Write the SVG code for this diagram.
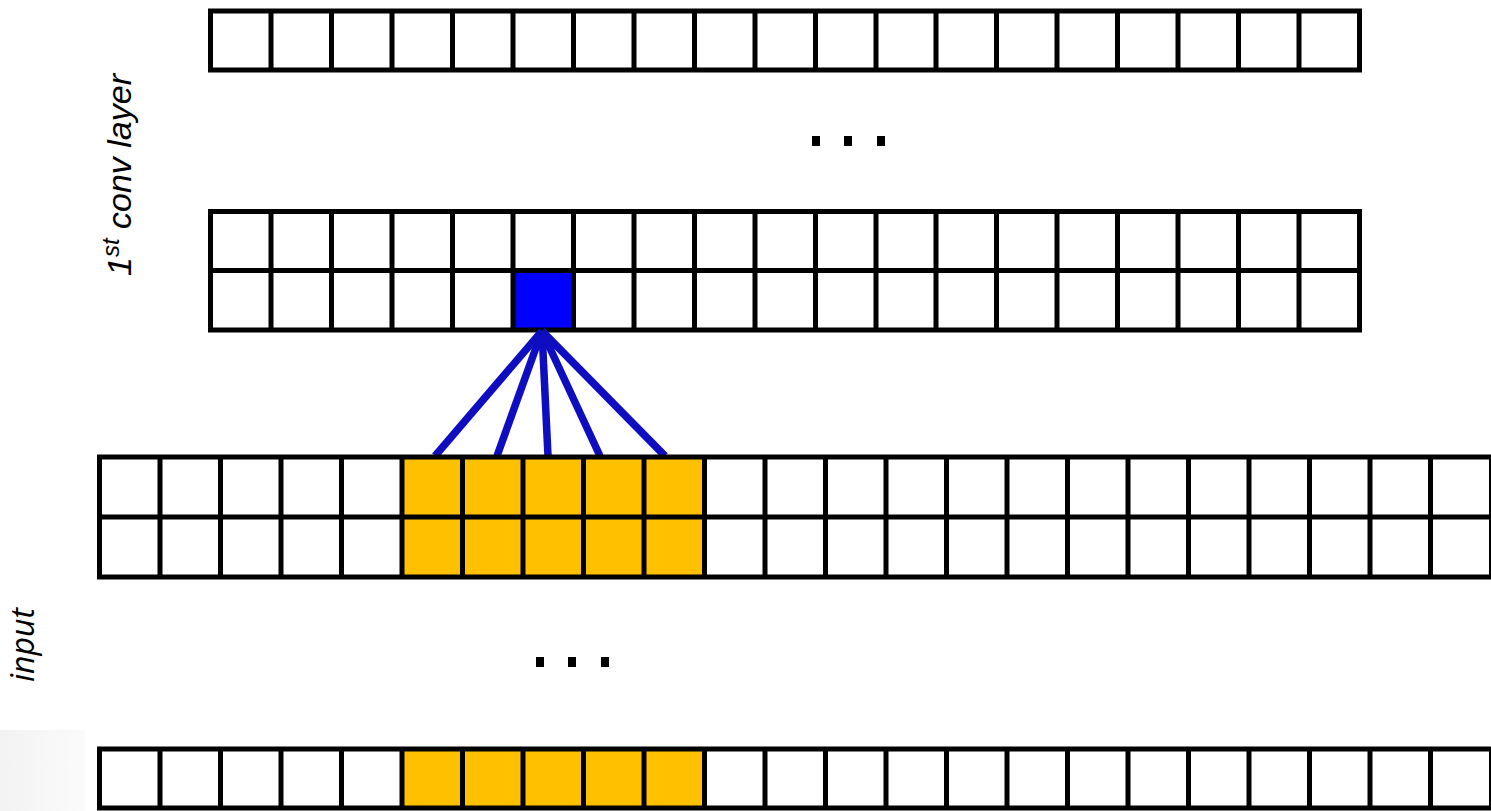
<svg xmlns="http://www.w3.org/2000/svg" width="1491" height="811" viewBox="0 0 1491 811">
<style>
.frame{fill:none;stroke:#000;stroke-width:5}
.grid{fill:none;stroke:#000;stroke-width:5}
.bg{fill:#fff}
.orange{fill:#FFC000}
.blue{fill:#0000FF}
.dot{fill:#000}
.conn{stroke:#0E0EC0;stroke-width:7.5;stroke-linecap:butt;fill:none}
.lbl{font-family:"Liberation Sans",Arial,sans-serif;font-style:italic;fill:#000}
.lbl2{font-family:"Open Sans","Liberation Sans",sans-serif;font-style:italic;fill:#000}
</style>
<defs>
<linearGradient id="fade" x1="0" y1="0" x2="1" y2="0">
<stop offset="0" stop-color="#f2f2f2"/>
<stop offset="1" stop-color="#fbfbfb"/>
</linearGradient>
</defs>
<rect width="1491" height="811" fill="#fff"/>
<rect x="0" y="730" width="85" height="81" fill="url(#fade)"/>

<g id="conv-top-row">
<rect class="bg" x="210.5" y="11" width="1149" height="59"/>
<path class="grid" d="M271 11V70M331.5 11V70M392 11V70M452.5 11V70M513 11V70M573.5 11V70M634 11V70M694.5 11V70M755 11V70M815.5 11V70M876 11V70M936 11V70M996.5 11V70M1057 11V70M1117.5 11V70M1178 11V70M1238.5 11V70M1299 11V70"/>
<rect class="frame" x="210.5" y="11" width="1149" height="59"/>
</g>

<g id="conv-dots">
<rect class="dot" x="812" y="136" width="8" height="10"/>
<rect class="dot" x="844" y="136" width="8" height="10"/>
<rect class="dot" x="877" y="136" width="8" height="10"/>
</g>

<g id="conv-block">
<rect class="bg" x="210.5" y="211.5" width="1149" height="118.5"/>
<rect class="blue" x="513" y="270.5" width="60.5" height="59.5"/>
<path class="grid" d="M210.5 270.5H1359.5M271 211.5V330M331.5 211.5V330M392 211.5V330M452.5 211.5V330M513 211.5V330M573.5 211.5V330M634 211.5V330M694.5 211.5V330M755 211.5V330M815.5 211.5V330M876 211.5V330M936 211.5V330M996.5 211.5V330M1057 211.5V330M1117.5 211.5V330M1178 211.5V330M1238.5 211.5V330M1299 211.5V330"/>
<rect class="frame" x="210.5" y="211.5" width="1149" height="118.5"/>
</g>

<g id="connectors">
<line class="conn" x1="542" y1="331" x2="435" y2="456"/>
<line class="conn" x1="542" y1="331" x2="497" y2="456"/>
<line class="conn" x1="542" y1="331" x2="548" y2="456"/>
<line class="conn" x1="542" y1="331" x2="600" y2="456"/>
<line class="conn" x1="542" y1="331" x2="665" y2="456"/>
</g>

<g id="input-block">
<rect class="bg" x="99.5" y="457" width="1392" height="120"/>
<rect class="orange" x="402" y="457" width="302.5" height="120"/>
<path class="grid" d="M99.5 517H1491M160 457V577M220.5 457V577M281 457V577M341.5 457V577M402 457V577M462.5 457V577M523 457V577M583.5 457V577M644 457V577M704.5 457V577M765 457V577M825.5 457V577M886 457V577M946.5 457V577M1007 457V577M1067.5 457V577M1128 457V577M1188.5 457V577M1249 457V577M1309.5 457V577M1370 457V577M1430.5 457V577"/>
<rect class="frame" x="99.5" y="457" width="1392" height="120"/>
</g>

<g id="input-dots">
<rect class="dot" x="536" y="657" width="8" height="10"/>
<rect class="dot" x="568" y="657" width="8" height="10"/>
<rect class="dot" x="601" y="657" width="8" height="10"/>
</g>

<g id="input-bottom-row">
<rect class="bg" x="99.5" y="749" width="1392" height="59"/>
<rect class="orange" x="402" y="749" width="302.5" height="59"/>
<path class="grid" d="M160 749V808M220.5 749V808M281 749V808M341.5 749V808M402 749V808M462.5 749V808M523 749V808M583.5 749V808M644 749V808M704.5 749V808M765 749V808M825.5 749V808M886 749V808M946.5 749V808M1007 749V808M1067.5 749V808M1128 749V808M1188.5 749V808M1249 749V808M1309.5 749V808M1370 749V808M1430.5 749V808"/>
<rect class="frame" x="99.5" y="749" width="1392" height="59"/>
</g>

<g id="label-conv">
<text class="lbl" font-size="34" text-anchor="middle" transform="translate(131 175) rotate(-90)">1<tspan font-size="24" dy="-12">st</tspan><tspan dy="12"> conv layer</tspan></text>
</g>
<g id="label-input">
<text class="lbl2" font-size="32" text-anchor="middle" transform="translate(34 645) rotate(-90)">input</text>
</g>
</svg>
